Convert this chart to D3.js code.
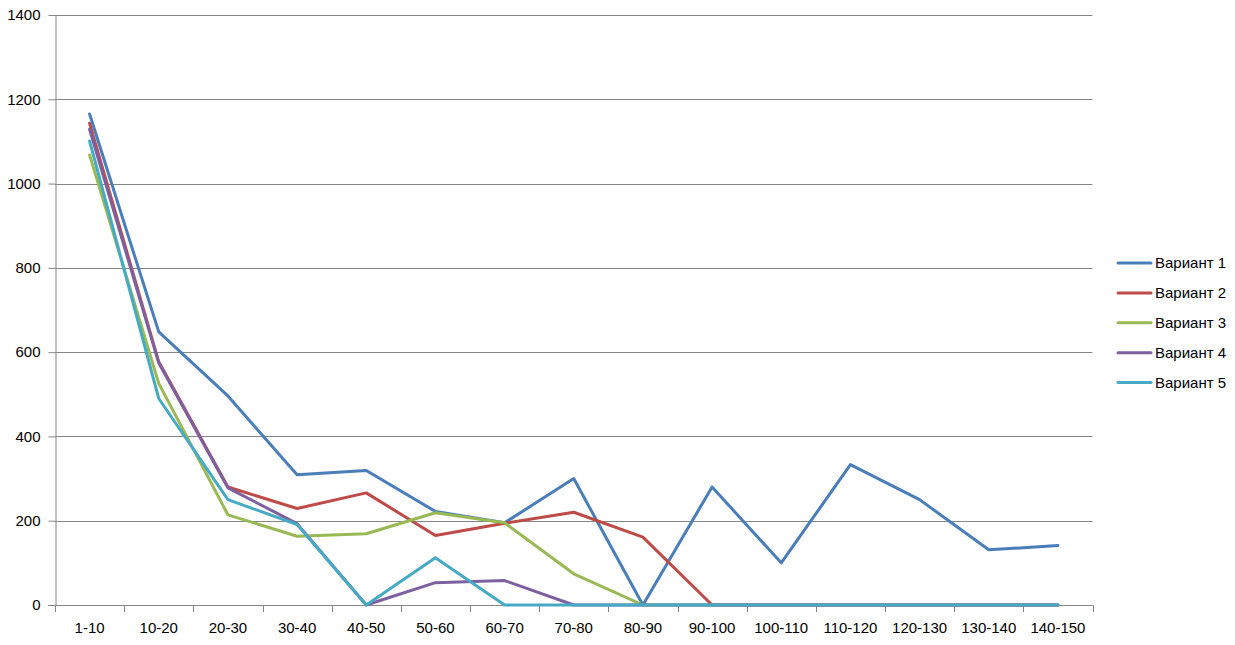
<!DOCTYPE html>
<html>
<head>
<meta charset="utf-8">
<script src="https://cdn.jsdelivr.net/npm/d3@7"></script>
<style>
  body { margin: 0; background: #fff; }
  svg { display: block; }
  text { font-family: "Liberation Sans", Arial, sans-serif; font-size: 15px; fill: #000; }
</style>
</head>
<body>
<svg id="chart" width="1235" height="645"></svg>
<script>
const categories = ["1-10","10-20","20-30","30-40","40-50","50-60","60-70","70-80","80-90","90-100","100-110","110-120","120-130","130-140","140-150"];
const seriesNames = ["Вариант 1","Вариант 2","Вариант 3","Вариант 4","Вариант 5"];
const variant1 = [1165, 648, 496, 309, 319, 222, 195, 300, 0, 280, 100, 333, 250, 131, 141];
const variant2 = [1143, 577, 280, 229, 266, 165, 194, 220, 161, 0, 0, 0, 0, 0, 0];
const variant3 = [1068, 526, 214, 163, 169, 219, 195, 74, 0, 0, 0, 0, 0, 0, 0];
const variant4 = [1129, 574, 278, 193, 0, 53, 58, 0, 0, 0, 0, 0, 0, 0, 0];
const variant5 = [1101, 490, 250, 191, 0, 112, 0, 0, 0, 0, 0, 0, 0, 0, 0];
const yTicks = [0, 200, 400, 600, 800, 1000, 1200, 1400];
const colors = ["#4A7EBB", "#BE4B48", "#98B954", "#7D60A0", "#46AAC5"];

const seriesValues = [variant1, variant2, variant3, variant4, variant5];

const svg = d3.select("#chart");
const plotLeft = 55, plotRight = 1092.5, plotTop = 15, plotBottom = 605;
const FONT = "'Liberation Sans', Arial, sans-serif";

const x = d3.scaleBand().domain(categories).range([plotLeft, plotRight]).padding(0);
const y = d3.scaleLinear().domain([0, 1400]).range([plotBottom, plotTop]);
const cx = c => x(c) + x.bandwidth() / 2;

// gridlines
svg.append("g").selectAll("line").data(yTicks.filter(t => t > 0)).join("line")
  .attr("x1", plotLeft).attr("x2", plotRight)
  .attr("y1", d => Math.round(y(d)) + 0.5).attr("y2", d => Math.round(y(d)) + 0.5)
  .attr("stroke", "#868686").attr("stroke-width", 1);

// y axis
const yAxis = svg.append("g").attr("transform", `translate(${plotLeft + 0.5},0)`)
  .call(d3.axisLeft(y).tickValues(yTicks).tickFormat(d3.format("d")).tickSize(7).tickPadding(8).tickSizeOuter(0));
yAxis.select(".domain").attr("stroke", "#868686");
yAxis.selectAll(".tick line").attr("stroke", "#868686");
yAxis.selectAll(".tick text").style("font-size", "15px").style("font-family", FONT).attr("fill", "#000");

// x axis baseline
svg.append("line").attr("x1", plotLeft - 7).attr("x2", plotRight)
  .attr("y1", plotBottom + 0.5).attr("y2", plotBottom + 0.5)
  .attr("stroke", "#868686");

// x boundary ticks
const bounds = categories.map(c => x(c)).concat([plotRight]);
svg.append("g").selectAll("line").data(bounds).join("line")
  .attr("x1", d => Math.round(d) + 0.5).attr("x2", d => Math.round(d) + 0.5)
  .attr("y1", plotBottom).attr("y2", plotBottom + 7)
  .attr("stroke", "#868686");

// x labels
const xAxis = svg.append("g").attr("transform", `translate(0,${plotBottom})`)
  .call(d3.axisBottom(x).tickSize(0).tickPadding(17));
xAxis.select(".domain").remove();
xAxis.selectAll(".tick text").style("font-size", "15px").style("font-family", FONT).attr("fill", "#000");

// lines
const line = d3.line().x((d, i) => cx(categories[i])).y(d => y(d));
svg.append("g").selectAll("path").data(seriesValues).join("path")
  .attr("d", d => line(d))
  .attr("fill", "none")
  .attr("stroke", (d, i) => colors[i])
  .attr("stroke-width", 3)
  .attr("stroke-linejoin", "round")
  .attr("stroke-linecap", "round");

// legend
const lg = svg.append("g").attr("transform", "translate(1118,263)");
const items = lg.selectAll("g").data(seriesNames).join("g")
  .attr("transform", (d, i) => `translate(0,${i * 29.9})`);
items.append("line").attr("x1", 0).attr("x2", 33).attr("y1", 0).attr("y2", 0)
  .attr("stroke", (d, i) => colors[i]).attr("stroke-width", 3).attr("stroke-linecap", "round");
items.append("text").attr("x", 37).attr("y", 0).attr("dy", "0.35em").text(d => d);
</script>
</body>
</html>
